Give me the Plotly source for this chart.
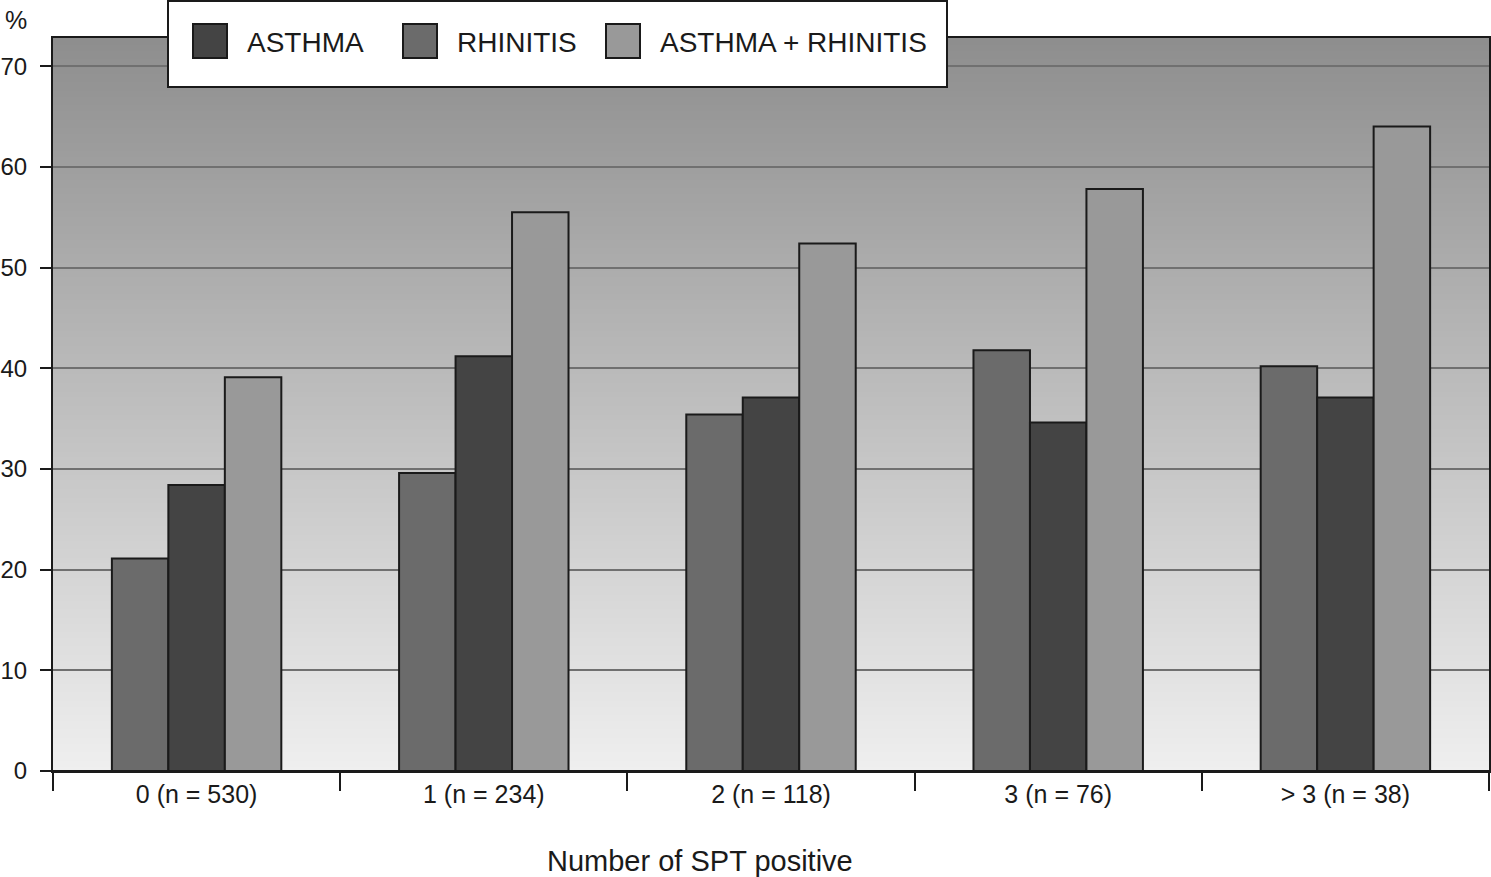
import base64
import struct
import zlib
import plotly.graph_objects as go

# ---- data ----
categories = ["0 (n = 530)", "1 (n = 234)", "2 (n = 118)", "3 (n = 76)", "> 3 (n = 38)"]
rhinitis = [21.1, 29.6, 35.4, 41.8, 40.2]
asthma = [28.4, 41.2, 37.1, 34.6, 37.1]
asthma_rhinitis = [39.1, 55.5, 52.4, 57.8, 64.0]
series_names = ["ASTHMA", "RHINITIS", "ASTHMA + RHINITIS"]
y_ticks = [0, 10, 20, 30, 40, 50, 60, 70]

colors = {"ASTHMA": "#444444", "RHINITIS": "#6b6b6b", "ASTHMA + RHINITIS": "#999999"}
FONT = "Liberation Sans, Arial, Helvetica, sans-serif"
YMAX = 72.8


def gradient_png(top, bottom, n=256, w=4):
    rows = []
    for i in range(n):
        v = round(top + (bottom - top) * i / (n - 1))
        rows.append(b"\x00" + bytes([v]) * w)
    raw = b"".join(rows)

    def chunk(t, d):
        return struct.pack(">I", len(d)) + t + d + struct.pack(">I", zlib.crc32(t + d) & 0xFFFFFFFF)

    ihdr = struct.pack(">IIBBBBB", w, n, 8, 0, 0, 0, 0)
    png = b"\x89PNG\r\n\x1a\n" + chunk(b"IHDR", ihdr) + chunk(b"IDAT", zlib.compress(raw)) + chunk(b"IEND", b"")
    return "data:image/png;base64," + base64.b64encode(png).decode()


fig = go.Figure()
# bar order inside each group: RHINITIS, ASTHMA, ASTHMA + RHINITIS
for name, vals in [("RHINITIS", rhinitis), ("ASTHMA", asthma), ("ASTHMA + RHINITIS", asthma_rhinitis)]:
    fig.add_trace(go.Bar(
        x=categories, y=vals, name=name,
        marker=dict(color=colors[name], line=dict(color="#1a1a1a", width=2)),
        showlegend=False,
    ))

FIG_W, FIG_H = 1491, 877
L, R, T, B = 53, 1489, 38, 771  # plot area in pixels
W, H = R - L, B - T


def px(x):
    return (x - L) / W


def py(y):
    return (B - y) / H


shapes = []
annotations = []
shapes.append(dict(type="rect", xref="paper", yref="paper",
                   x0=px(168), x1=px(947), y0=py(87), y1=py(1),
                   fillcolor="white", line=dict(color="#1a1a1a", width=2), layer="above"))
legend_pos = [(193, 245), (403, 455), (606, 658)]
for name, (sx, tx) in zip(series_names, legend_pos):
    shapes.append(dict(type="rect", xref="paper", yref="paper",
                       x0=px(sx), x1=px(sx + 34), y0=py(58), y1=py(24),
                       fillcolor=colors[name], line=dict(color="#1a1a1a", width=2), layer="above"))
    annotations.append(dict(text=name, xref="paper", yref="paper", x=px(tx), y=py(42),
                            xanchor="left", yanchor="middle", showarrow=False,
                            font=dict(size=28, color="#1a1a1a", family=FONT)))

annotations.append(dict(text="%", xref="paper", yref="paper", x=px(16), y=py(20),
                        xanchor="center", yanchor="middle", showarrow=False,
                        font=dict(size=25, color="#1a1a1a", family=FONT)))
annotations.append(dict(text="Number of SPT positive", xref="paper", yref="paper",
                        x=px(700), y=py(861), xanchor="center", yanchor="middle",
                        showarrow=False, font=dict(size=29, color="#1a1a1a", family=FONT)))

fig.update_layout(
    width=FIG_W, height=FIG_H,
    margin=dict(l=L, r=FIG_W - R, t=T, b=FIG_H - B),
    paper_bgcolor="white", plot_bgcolor="white",
    barmode="group", bargap=0.41, bargroupgap=0,
    shapes=shapes, annotations=annotations,
    images=[dict(source=gradient_png(142, 239), xref="x", yref="y", x=-0.5, y=YMAX,
                 sizex=5, sizey=YMAX, sizing="stretch", xanchor="left", yanchor="top",
                 layer="below")],
    font=dict(family=FONT, color="#1a1a1a"),
)
fig.update_xaxes(
    type="category", range=[-0.5, 4.5], tickson="boundaries", automargin=False,
    ticks="outside", ticklen=18, tickwidth=2, tickcolor="#1a1a1a",
    showline=True, linecolor="#1a1a1a", linewidth=2, mirror=True,
    showgrid=False, tickfont=dict(size=25, color="#1a1a1a", family=FONT),
)
fig.update_yaxes(
    range=[0, YMAX], tickvals=y_ticks, ticks="outside", ticklen=11, tickwidth=2,
    automargin=False,
    tickcolor="#1a1a1a", showline=True, linecolor="#1a1a1a", linewidth=2, mirror=True,
    showgrid=True, gridcolor="#707070", gridwidth=2, zeroline=True, zerolinecolor="#1a1a1a",
    zerolinewidth=2, tickfont=dict(size=24, color="#1a1a1a", family=FONT), ticklabelstandoff=8,
)

# remove the browser's default 8px page margin so the figure sits at the window's origin
fig.write_html("out.html", config={"displayModeBar": False},
               post_script="document.body.style.margin='0';")
